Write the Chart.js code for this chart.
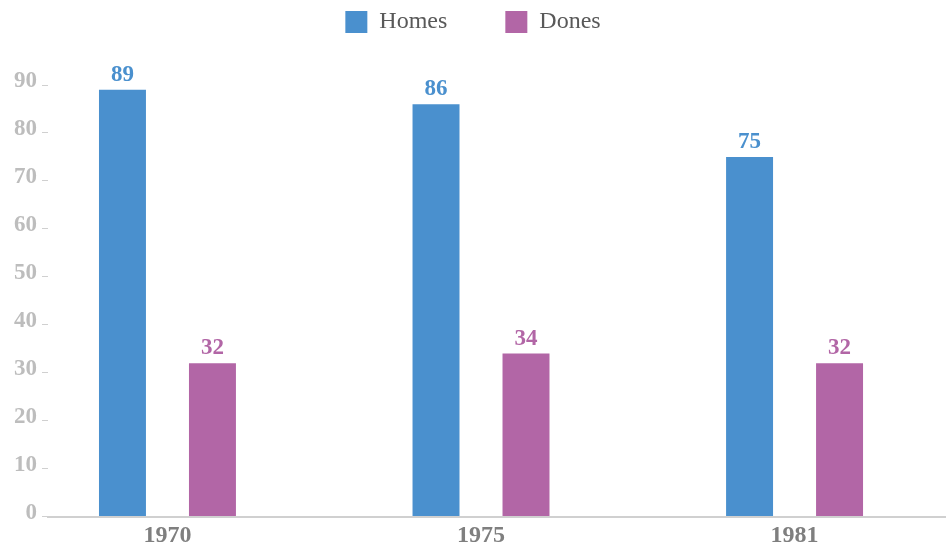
<!DOCTYPE html>
<html>
<head>
<meta charset="utf-8">
<script src="https://cdn.jsdelivr.net/npm/chart.js@4.4.0/dist/chart.umd.min.js"></script>
<style>
  html, body { margin: 0; padding: 0; background: #fff; }
  #wrap { width: 946px; height: 543px; position: relative; }
</style>
</head>
<body>
<div id="wrap"><canvas id="chart"></canvas></div>
<script>
// data
const years = ['1970', '1975', '1981'];
const homes = [89, 86, 75];
const dones = [32, 34, 32];
const yMax = 90;
const yStep = 10;

const COLORS = {
  homes: '#4a90ce',
  dones: '#b266a6',
  axisText: '#bdbdbd',
  catText: '#7f7f7f',
  legendText: '#595959',
  line: '#d0d0d0',
};

Chart.defaults.font.family = "'Liberation Serif', 'DejaVu Serif', serif";

// push the plot down below the legend
const legendGap = {
  id: 'legendGap',
  beforeInit(chart) {
    const fit = chart.legend.fit;
    chart.legend.fit = function () {
      fit.call(this);
      this.height += 41;
    };
  },
};

// value labels above each bar, same colour as the bar
const valueLabels = {
  id: 'valueLabels',
  afterDatasetsDraw(chart) {
    const ctx = chart.ctx;
    ctx.save();
    ctx.font = "bold 23px 'Liberation Serif', serif";
    ctx.textAlign = 'center';
    ctx.textBaseline = 'alphabetic';
    chart.data.datasets.forEach((ds, di) => {
      const meta = chart.getDatasetMeta(di);
      ctx.fillStyle = ds.backgroundColor;
      meta.data.forEach((bar, i) => {
        ctx.fillText(String(ds.data[i].y), bar.x, bar.y - 9);
      });
    });
    ctx.restore();
  },
};

const toPoints = (vals) => vals.map((v, i) => ({ x: i, y: v }));

new Chart(document.getElementById('chart').getContext('2d'), {
  type: 'bar',
  data: {
    datasets: [
      {
        label: 'Homes',
        data: toPoints(homes),
        backgroundColor: COLORS.homes,
        borderWidth: 0,
        categoryPercentage: 0.574,
        barPercentage: 0.522,
      },
      {
        label: 'Dones',
        data: toPoints(dones),
        backgroundColor: COLORS.dones,
        borderWidth: 0,
        categoryPercentage: 0.574,
        barPercentage: 0.522,
      },
    ],
  },
  options: {
    responsive: true,
    maintainAspectRatio: false,
    animation: false,
    layout: { padding: { left: 0, right: 0, top: 0, bottom: -12 } },
    plugins: {
      tooltip: { enabled: false },
      legend: {
        position: 'top',
        labels: {
          boxWidth: 22,
          boxHeight: 22,
          padding: 10,
          color: COLORS.legendText,
          font: { size: 24 },
          // widen the first item so the two entries sit apart like the original
          generateLabels: (chart) =>
            Chart.defaults.plugins.legend.labels.generateLabels(chart).map((item, i) => ({
              ...item,
              text: i === 0 ? item.text + ' '.repeat(8) : item.text,
            })),
        },
      },
    },
    scales: {
      x: {
        type: 'linear',
        offset: false,
        min: -0.381,
        max: 2.483,
        afterBuildTicks: (scale) => {
          scale.ticks = years.map((_, i) => ({ value: i }));
        },
        ticks: {
          callback: (v) => years[v] ?? '',
          color: COLORS.catText,
          font: { size: 24, weight: 'bold', lineHeight: 0.6 },
          padding: 12,
          autoSkip: false,
          maxRotation: 0,
        },
        grid: { display: false, drawTicks: false, offset: false },
        border: { display: true, color: COLORS.line, width: 2 },
      },
      y: {
        min: 0,
        max: yMax,
        afterFit: (scale) => { scale.width = 48; },
        ticks: {
          stepSize: yStep,
          color: COLORS.axisText,
          font: { size: 23, weight: 'bold' },
          padding: 5,
          labelOffset: -4,
        },
        grid: { drawOnChartArea: false, drawTicks: true, tickLength: 6, tickColor: COLORS.line },
        border: { display: false },
      },
    },
  },
  plugins: [legendGap, valueLabels],
});
</script>
</body>
</html>
